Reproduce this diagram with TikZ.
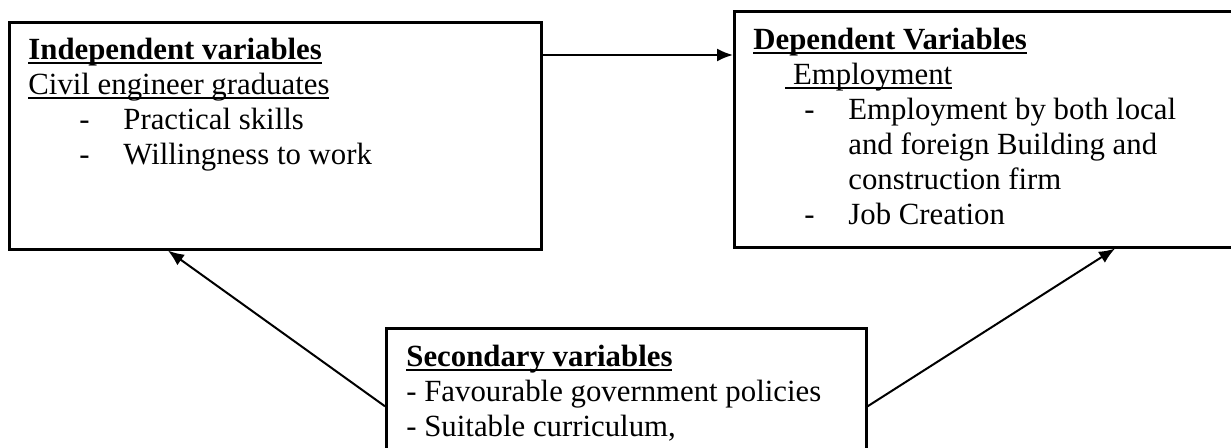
\documentclass[tikz,border=0pt]{standalone}
\usepackage{fontspec}
\setmainfont{Liberation Serif}
\usetikzlibrary{arrows.meta,calc,positioning}
\tikzset{
  var box/.style={
    draw=black,
    line width=1.3pt,
    rectangle,
    inner sep=0pt,
    anchor=north west
  },
  var text/.style={
    align=left,
    inner sep=0pt,
    anchor=base west,
    font=\fontsize{15.4}{17.5}\selectfont
  },
  var link/.style={-{Latex[length=8pt,width=6.5pt]},draw=black,line width=1pt}
}
\newcommand{\dashitem}[1]{\hspace*{25.5pt}\makebox[22pt][l]{-}#1}
% underline close to the baseline, through descenders
\newcommand{\varul}[1]{\begingroup\setbox0\hbox{#1}\rlap{\rule[-2pt]{\wd0}{0.75pt}}\box0\endgroup}

\begin{document}
\begin{tikzpicture}[x=0.5pt,y=-0.5pt]
  \useasboundingbox (0,0) rectangle (1231,448);
  \clip (0,0) rectangle (1231,448);

  \node[var box,minimum width=266pt,minimum height=113.5pt] (indep) at (8,21) {};
  \node[var box,minimum width=253.5pt,minimum height=118pt] (dep) at (733,10) {};
  \node[var box,minimum width=240pt,minimum height=78pt] (second) at (385,327) {};

  % text anchored on the baseline of its last line
  \node[var text] (indeptext) at ($(indep.north west)+(20,144)$) {
    \varul{\textbf{Independent variables}}\\
    \varul{Civil engineer graduates}\\
    \dashitem{Practical skills}\\
    \dashitem{Willingness to work}
  };
  \node[var text] (deptext) at ($(dep.north west)+(20,215)$) {
    \varul{\textbf{Dependent Variables}}\\
    \hspace*{16pt}\varul{\ Employment}\\
    \dashitem{Employment by both local}\\
    \hspace*{47.5pt}and foreign Building and\\
    \hspace*{47.5pt}construction firm\\
    \dashitem{Job Creation}
  };
  \node[var text] (secondtext) at ($(second.north west)+(21,110)$) {
    \varul{\textbf{Secondary variables}}\\
    - Favourable government policies\\
    - Suitable curriculum,
  };

  \draw[var link] ([yshift=-17pt]indep.north east) coordinate (topout) -- (topout -| dep.west);
  \draw[var link] (second.west) -- ([xshift=80pt]indep.south west);
  \draw[var link] (second.east) -- ([xshift=191pt]dep.south west);
\end{tikzpicture}
\end{document}
